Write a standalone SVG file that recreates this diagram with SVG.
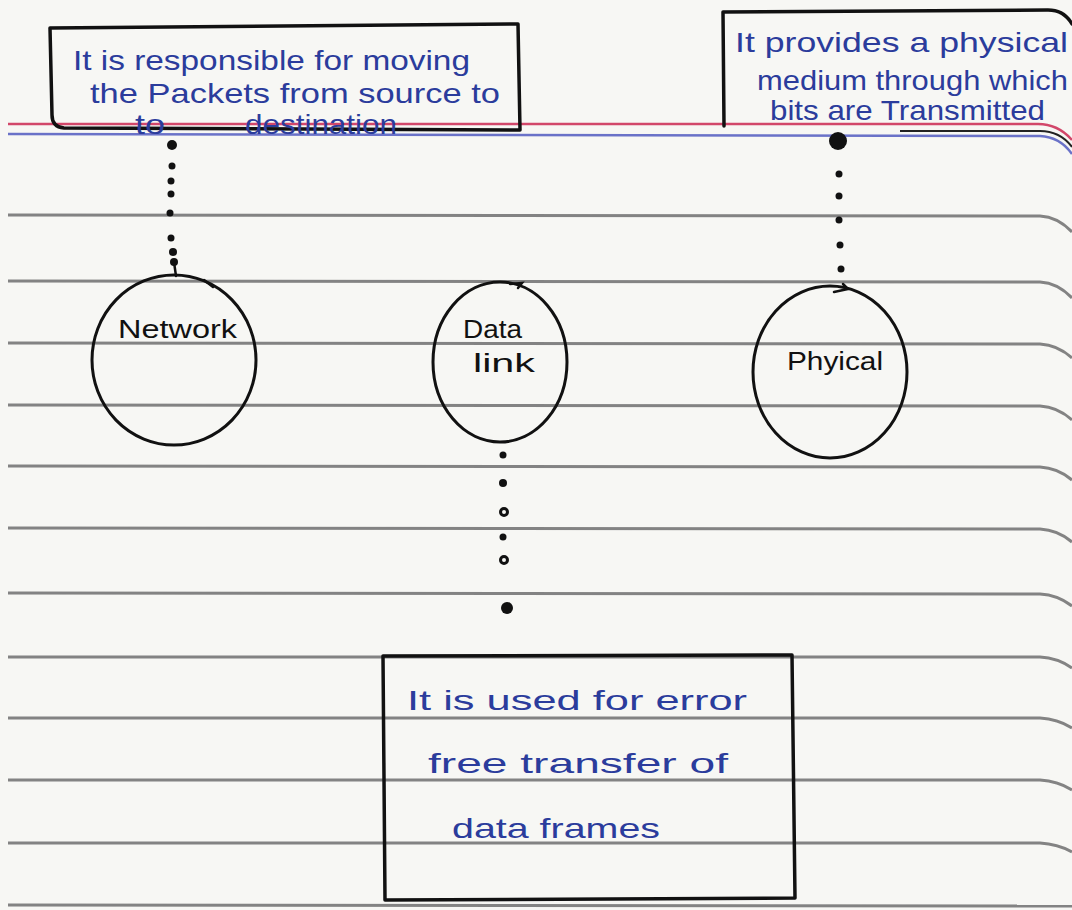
<svg xmlns="http://www.w3.org/2000/svg" width="1072" height="910" viewBox="0 0 1072 910">
  <style>
    .rule { fill: none; stroke: #6e6e6e; stroke-width: 3; stroke-opacity: 0.85; }
    .box { fill: none; stroke: #111; stroke-width: 3.5; stroke-linejoin: round; stroke-linecap: round; }
    .ring { fill: none; stroke: #111; stroke-width: 3; }
    .note { font-family: "Liberation Sans", "DejaVu Sans", sans-serif; font-size: 28px; fill: #2b3c9c; }
    .label { font-family: "Liberation Sans", "DejaVu Sans", sans-serif; font-size: 25px; fill: #111; }
    .dot { fill: #111; }
    .hook { fill: none; stroke: #111; stroke-width: 2.5; stroke-linecap: round; }
  </style>

  <!-- paper -->
  <rect x="0" y="0" width="1072" height="910" fill="#f7f7f4"/>

  <!-- margin lines -->
  <path d="M 8 124 L 1038 124 Q 1058 124 1072 140" fill="none" stroke="#d2476a" stroke-width="2.5"/>
  <path d="M 900 131 L 1040 131 Q 1060 131 1072 147" fill="none" stroke="#222" stroke-width="2"/>
  <path d="M 8 134 L 1040 136 Q 1060 137 1072 154" fill="none" stroke="#6a72c8" stroke-width="2.5"/>

  <!-- ruled lines -->
  <g id="ruling">
    <path class="rule" d="M 8 215 L 1040 216 Q 1058 217 1072 232"/>
    <path class="rule" d="M 8 281 L 1040 282 Q 1058 283 1072 298"/>
    <path class="rule" d="M 8 343 L 1040 344 Q 1058 345 1072 358"/>
    <path class="rule" d="M 8 405 L 1040 406 Q 1058 407 1072 420"/>
    <path class="rule" d="M 8 466 L 1040 467 Q 1058 468 1072 480"/>
    <path class="rule" d="M 8 528 L 1040 529 Q 1058 530 1072 542"/>
    <path class="rule" d="M 8 593 L 1040 594 Q 1058 595 1072 606"/>
    <path class="rule" d="M 8 657 L 1040 657 Q 1058 658 1072 668"/>
    <path class="rule" d="M 8 718 L 1040 718 Q 1058 719 1072 728"/>
    <path class="rule" d="M 8 780 L 1040 780 Q 1058 781 1072 790"/>
    <path class="rule" d="M 8 843 L 1040 843 Q 1058 844 1072 852"/>
    <path class="rule" d="M 8 905 L 1072 906" stroke="#333" stroke-width="3.5"/>
  </g>

  <!-- connectors: hand-dotted lines -->
  <g id="connectors">
    <g id="network-link">
      <circle class="dot" cx="172" cy="145" r="5"/>
      <circle class="dot" cx="172" cy="166" r="3.5"/>
      <circle class="dot" cx="171" cy="181" r="3.5"/>
      <circle class="dot" cx="171" cy="194" r="3.5"/>
      <circle class="dot" cx="170" cy="213" r="3.5"/>
      <circle class="dot" cx="171" cy="238" r="3.5"/>
      <circle class="dot" cx="173" cy="252" r="4"/>
      <circle class="dot" cx="174" cy="262" r="4"/>
      <path class="hook" d="M 174 262 L 176 276"/>
    </g>
    <g id="physical-link">
      <circle class="dot" cx="838" cy="141" r="9"/>
      <circle class="dot" cx="839" cy="174" r="3.5"/>
      <circle class="dot" cx="839" cy="196" r="3.5"/>
      <circle class="dot" cx="839" cy="220" r="3.5"/>
      <circle class="dot" cx="840" cy="245" r="3.5"/>
      <circle class="dot" cx="841" cy="269" r="3.5"/>
      <path class="hook" d="M 834 292 L 848 289 L 843 284"/>
    </g>
    <g id="datalink-link">
      <circle class="dot" cx="503" cy="455" r="3.5"/>
      <circle class="dot" cx="503" cy="483" r="4"/>
      <circle cx="504" cy="512" r="3.5" fill="none" stroke="#111" stroke-width="3"/>
      <circle class="dot" cx="503" cy="537" r="3.5"/>
      <circle cx="504" cy="560" r="3.5" fill="none" stroke="#111" stroke-width="3"/>
      <circle class="dot" cx="507" cy="608" r="6"/>
    </g>
  </g>

  <!-- note: network layer -->
  <g id="note-network">
    <path class="box" d="M 50 28 L 518 24 L 520 130 L 64 128 Q 52 127 52 115 Z"/>
    <text class="note" x="73" y="70" textLength="397" lengthAdjust="spacingAndGlyphs">It is responsible for moving</text>
    <text class="note" x="90" y="103" font-size="24" textLength="410" lengthAdjust="spacingAndGlyphs">the  Packets  from  source  to</text>
    <text class="note" x="135" y="134" font-size="18" textLength="30" lengthAdjust="spacingAndGlyphs">to</text>
    <text class="note" x="245" y="134" font-size="19" textLength="152" lengthAdjust="spacingAndGlyphs">destination</text>
  </g>

  <!-- note: physical layer -->
  <g id="note-physical">
    <path class="box" d="M 724 126 L 723 12 L 1048 10 Q 1064 10 1072 24"/>
    <text class="note" x="735" y="52" textLength="333" lengthAdjust="spacingAndGlyphs">It provides a physical</text>
    <text class="note" x="757" y="90" font-size="26" textLength="311" lengthAdjust="spacingAndGlyphs">medium through which</text>
    <text class="note" x="770" y="120" font-size="26" textLength="275" lengthAdjust="spacingAndGlyphs">bits are Transmitted</text>
  </g>

  <!-- note: data link layer -->
  <g id="note-datalink">
    <path class="box" d="M 383 656 L 792 655 L 795 898 L 385 900 Z"/>
    <text class="note" x="407" y="710" font-size="30" textLength="340" lengthAdjust="spacingAndGlyphs">It is used  for error</text>
    <text class="note" x="428" y="773" font-size="30" textLength="300" lengthAdjust="spacingAndGlyphs">free  transfer  of</text>
    <text class="note" x="452" y="838" font-size="30" textLength="208" lengthAdjust="spacingAndGlyphs">data  frames</text>
  </g>

  <!-- layer nodes -->
  <g id="node-network">
    <ellipse class="ring" cx="174" cy="360" rx="82" ry="85"/>
    <path class="hook" d="M 204 280 L 213 287"/>
    <text class="label" x="118" y="338" textLength="119" lengthAdjust="spacingAndGlyphs">Network</text>
  </g>

  <g id="node-datalink">
    <ellipse class="ring" cx="500" cy="362" rx="67" ry="80"/>
    <path class="hook" d="M 510 284 L 522 283 L 518 288"/>
    <text class="label" x="463" y="338" font-size="27" textLength="59" lengthAdjust="spacingAndGlyphs">Data</text>
    <text class="label" x="473" y="372" font-size="29" textLength="62" lengthAdjust="spacingAndGlyphs">link</text>
  </g>

  <g id="node-physical">
    <ellipse class="ring" cx="830" cy="372" rx="77" ry="86"/>
    <text class="label" x="787" y="370" textLength="96" lengthAdjust="spacingAndGlyphs">Phyical</text>
  </g>
</svg>
